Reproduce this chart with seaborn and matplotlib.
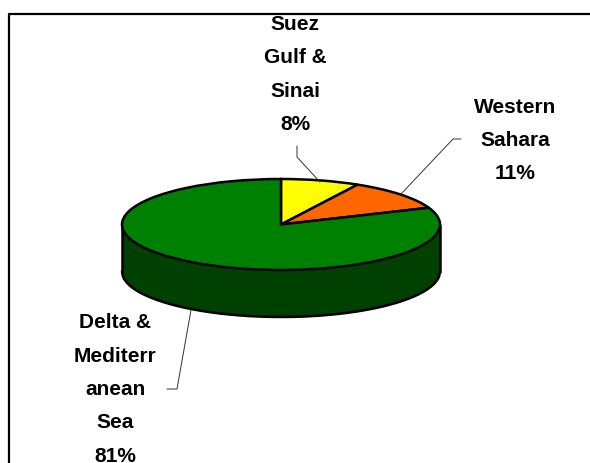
import matplotlib
matplotlib.use("Agg")
import numpy as np
import matplotlib.pyplot as plt
import seaborn as sns
from matplotlib.transforms import Bbox

regions = ["Suez\nGulf &\nSinai", "Western\nSahara", "Delta &\nMediterr\nanean\nSea"]
shares = [8, 11, 81]
top_colors = ["#ffff00", "#ff6600", "#008000"]
side_color = "#004000"

sns.set_theme(style="white")
plt.rcParams['font.family'] = ['Liberation Sans', 'DejaVu Sans']

W, H = 590, 463
fig = plt.figure(figsize=(W / 100, H / 100), dpi=100, facecolor="white")

# y data runs in "squashed" units so the round pie comes out as a flat ellipse
cx, cy, rx, ry, depth = 281, 224.5, 159, 45.5, 47
squash = rx / ry
ax = fig.add_axes([0, 0, 1, 1])

# side wall of the disc
xs = np.linspace(cx - rx, cx + rx, 400)
lower = np.sqrt(np.clip(1 - ((xs - cx) / rx) ** 2, 0, 1)) * rx
ax.fill_between(xs, -lower, -lower - depth * squash, color=side_color, lw=0, zorder=1)
ax.plot(xs, -lower - depth * squash, color="black", lw=1.8, zorder=2)
for x in [cx - rx, cx + rx]:
    ax.plot([x, x], [0, -depth * squash], color="black", lw=1.8, zorder=2)

wedges, _ = ax.pie(shares, colors=top_colors, startangle=90, counterclock=False,
                   center=(cx, 0), radius=rx,
                   wedgeprops={"edgecolor": "black", "linewidth": 1.8, "zorder": 3})

ax.set_aspect("auto")
ax.set_frame_on(False)
ax.set_xlim(0, W)
ax.set_ylim((cy - H) * squash, cy * squash)


def to_y(py):
    return (cy - py) * squash


# leader lines, in pixels of the picture
leaders = [([297, 297, 320], [146, 157, 182]),
           ([461, 453, 401], [139, 139, 194]),
           ([167, 177, 191], [389, 389, 310])]
for lx, ly in leaders:
    ax.plot(lx, [to_y(v) for v in ly], color="#333333", lw=0.7, zorder=4)

# labels are cut by the frame at the top and the image edge at the bottom
clip = Bbox([[0, 0], [W, H - 16]])
label_pos = [(295, 74.5), (515, 140.5), (115, 389.5)]
for name, share, (px, py) in zip(regions, shares, label_pos):
    ax.text(px, to_y(py), f"{name}\n{share}%", ha="center", va="center", ma="center",
            fontsize=15, fontweight="bold", color="black", linespacing=1.96,
            clip_on=True, clip_box=clip, zorder=5)

# frame of the chart, only left and top are inside the picture
ax.plot([9, 9, W], [to_y(463), to_y(14), to_y(14)],
        color="black", lw=1.6, zorder=6, clip_on=False)

fig.savefig("out.png", dpi=100, facecolor="white")
